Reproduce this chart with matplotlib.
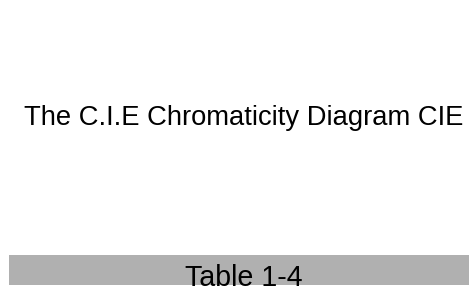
import matplotlib.pyplot as plt
from matplotlib.patches import Rectangle

# texts
title_text = "The C.I.E Chromaticity Diagram CIE"
table_label = "Table 1-4"

plt.rcParams['font.family'] = ['Liberation Sans', 'DejaVu Sans']

fig = plt.figure(figsize=(4.69, 3.04), dpi=100)
ax = fig.add_axes([0, 0, 1, 1])
ax.set_xlim(0, 469)
ax.set_ylim(304, 0)
ax.axis('off')

# caption
ax.text(244, 125, title_text, fontsize=19.7, color='black', ha='center', va='baseline')

# grey band with table label
ax.add_patch(Rectangle((9, 255), 460, 30, facecolor='#b0b0b0', edgecolor='none'))
ax.text(244, 286, table_label, fontsize=20.6, color='black', ha='center', va='baseline')

fig.savefig('out.png', dpi=100)
